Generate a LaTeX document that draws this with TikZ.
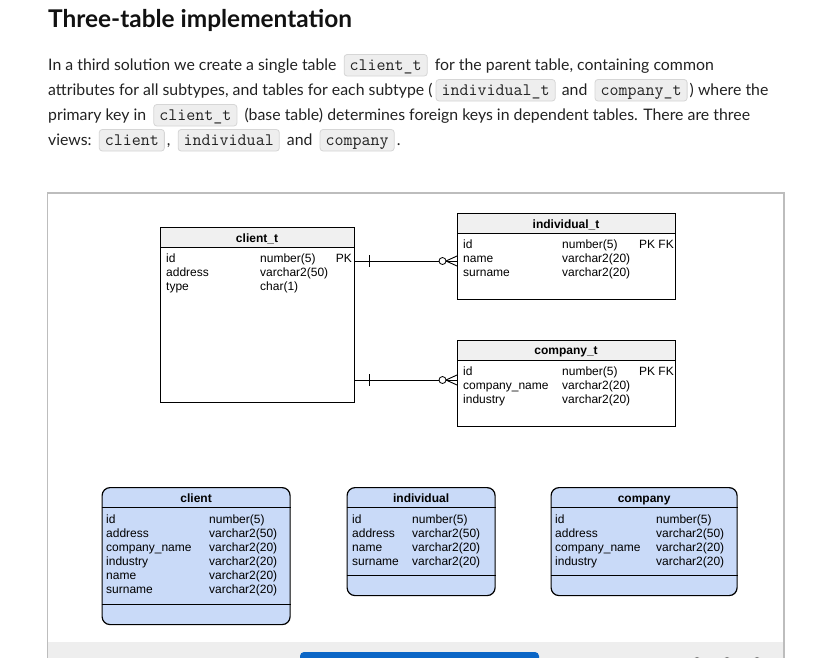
\documentclass[tikz,border=0pt]{standalone}
\usepackage{fontspec}
\setmainfont{Lato}
\newfontfamily\tabfont{Liberation Sans}
\definecolor{textc}{HTML}{222222}
\definecolor{titlec}{HTML}{111111}
\definecolor{codebg}{HTML}{EEEEEE}
\definecolor{codeborder}{HTML}{D6D6D6}
\definecolor{codetext}{HTML}{222222}
\definecolor{viewblue}{HTML}{C9DAF8}
\definecolor{hdrgray}{HTML}{F0F0F0}
\definecolor{framegray}{HTML}{BDBDBD}
\definecolor{bandgray}{HTML}{EEEEEE}
\definecolor{btnblue}{HTML}{0B66C6}
\definecolor{dotgray}{HTML}{777777}
\begin{document}
\begin{tikzpicture}[x=1pt,y=-1pt,
  titlestyle/.style={inner sep=0pt, anchor=base west, text=titlec, font=\bfseries\fontsize{24.4}{28}\selectfont},
  txt/.style={inner sep=0pt, anchor=base west, text=textc, font=\fontsize{15.85}{18}\selectfont},
  code/.style={anchor=base west, fill=codebg, draw=codeborder, line width=0.8pt, rounded corners=3pt,
     inner xsep=5.5pt, inner ysep=3.5pt, text height=12pt, text depth=2.5pt, text=codetext,
     font=\ttfamily\fontsize{17.5}{18}\selectfont},
  row/.style={inner sep=0pt, anchor=base west, font=\tabfont\fontsize{12}{14}\selectfont},
  rowr/.style={inner sep=0pt, anchor=base east, font=\tabfont\fontsize{12}{14}\selectfont},
  hdrtext/.style={inner sep=0pt, anchor=base, font=\tabfont\bfseries\fontsize{12}{14}\selectfont},
  ertab/.style={draw=black, line width=0.9pt, anchor=north west, inner sep=0pt},
  erhdr/.style={fill=hdrgray, draw=black, line width=0.9pt, anchor=north west, inner sep=0pt},
  viewbox/.style={draw=black, fill=viewblue, line width=1.2pt, rounded corners=8pt, anchor=north west, inner sep=0pt},
  conn/.style={draw=black, line width=0.9pt},
  crowcirc/.style={circle, draw=black, fill=white, line width=0.8pt, inner sep=0pt, minimum size=7pt}
]
\useasboundingbox (0,0) rectangle (825,657);
\clip (0,0) rectangle (825,657);
\fill[white] (0,0) rectangle (825,657);

% ---------- title and paragraph ----------
\node[titlestyle] (title) at (48,27) {Three-table implementation};

\node[txt] (p1a) at (48,70) {In a third solution we create a single table};
\node[code] (p1b) at ([xshift=7pt]p1a.base east) {client\_t};
\node[txt] (p1c) at ([xshift=7pt]p1b.base east) {for the parent table, containing common};

\node[txt] (p2a) at (48,95) {attributes for all subtypes, and tables for each subtype (};
\node[code] (p2b) at ([xshift=3pt]p2a.base east) {individual\_t};
\node[txt] (p2c) at ([xshift=6pt]p2b.base east) {and};
\node[code] (p2d) at ([xshift=7pt]p2c.base east) {company\_t};
\node[txt] (p2e) at ([xshift=2pt]p2d.base east) {) where the};

\node[txt] (p3a) at (48,120) {primary key in};
\node[code] (p3b) at ([xshift=7pt]p3a.base east) {client\_t};
\node[txt] (p3c) at ([xshift=7pt]p3b.base east) {(base table) determines foreign keys in dependent tables. There are three};

\node[txt] (p4a) at (48,145) {views:};
\node[code] (p4b) at ([xshift=7pt]p4a.base east) {client};
\node[txt] (p4c) at ([xshift=2pt]p4b.base east) {,};
\node[code] (p4d) at ([xshift=7pt]p4c.base east) {individual};
\node[txt] (p4e) at ([xshift=7pt]p4d.base east) {and};
\node[code] (p4f) at ([xshift=7pt]p4e.base east) {company};
\node[txt] (p4g) at ([xshift=2pt]p4f.base east) {.};

% ---------- frame ----------
\fill[bandgray] (48,642) rectangle (784,670);
\fill[btnblue, rounded corners=4pt] (300,652) rectangle (539,690);
\foreach \dx [count=\k] in {697,727,757} {
  \node[circle, fill=dotgray, inner sep=0pt, minimum size=10pt] (dot\k) at (\dx,662) {};
}
\draw[framegray, line width=1.6pt] (47.5,193) rectangle (784,700);

% ---------- client_t ----------
\node[erhdr, minimum width=194pt, minimum height=20pt] (cth) at (160,227) {};
\node[ertab, minimum width=194pt, minimum height=175pt] (ct) at (160,227) {};
\node[hdrtext] (ctt) at (257,242) {client\_t};
\foreach \t [count=\i] in {id,address,type} {\node[row] (cta\i) at (166,248+14*\i) {\t};}
\foreach \t [count=\i] in {number(5),varchar2(50),char(1)} {\node[row] (ctb\i) at (260,248+14*\i) {\t};}
\node[rowr] (ctk) at (352,262) {PK};

% ---------- individual_t ----------
\node[erhdr, minimum width=218pt, minimum height=20pt] (ith) at (457,213) {};
\node[ertab, minimum width=218pt, minimum height=86pt] (it) at (457,213) {};
\node[hdrtext] (itt) at (566,228) {individual\_t};
\foreach \t [count=\i] in {id,name,surname} {\node[row] (ita\i) at (463,234+14*\i) {\t};}
\foreach \t [count=\i] in {number(5),varchar2(20),varchar2(20)} {\node[row] (itb\i) at (562,234+14*\i) {\t};}
\node[rowr] (itk) at (674,248) {PK FK};

% ---------- company_t ----------
\node[erhdr, minimum width=218pt, minimum height=20pt] (cph) at (457,340) {};
\node[ertab, minimum width=218pt, minimum height=86pt] (cp) at (457,340) {};
\node[hdrtext] (cpt) at (566,354) {company\_t};
\foreach \t [count=\i] in {id,company\_name,industry} {\node[row] (cpa\i) at (463,361+14*\i) {\t};}
\foreach \t [count=\i] in {number(5),varchar2(20),varchar2(20)} {\node[row] (cpb\i) at (562,361+14*\i) {\t};}
\node[rowr] (cpk) at (674,375) {PK FK};

% ---------- connectors ----------
\coordinate (c1s) at (ct.east |- 0,261);
\coordinate (c1e) at (it.west |- 0,261);
\coordinate (c2s) at (ct.east |- 0,380);
\coordinate (c2e) at (cp.west |- 0,380);
\draw[conn] (c1s) -- (c1e);
\draw[conn] (c2s) -- (c2e);
\foreach \c/\e in {c1s/c1e, c2s/c2e} {
  \draw[conn] ([xshift=15pt]\c) ++(0,-6) -- ++(0,12);
  \draw[conn] ([xshift=-11pt]\e) -- ([yshift=5pt]\e);
  \draw[conn] ([xshift=-11pt]\e) -- ([yshift=-5pt]\e);
}
\node[crowcirc] (o1) at ([xshift=-14.5pt]c1e) {};
\node[crowcirc] (o2) at ([xshift=-14.5pt]c2e) {};

% ---------- views ----------
\node[viewbox, minimum width=188pt, minimum height=137pt] (cv) at (101.5,487) {};
\draw[line width=1pt] (cv.west |- 0,507) -- (cv.east |- 0,507);
\draw[line width=1pt] (cv.west |- 0,604) -- (cv.east |- 0,604);
\node[hdrtext] (cvt) at (cv.north |- 0,502) {client};
\foreach \t [count=\i] in {id,address,company\_name,industry,name,surname} {\node[row] (cva\i) at (106,509+14*\i) {\t};}
\foreach \t [count=\i] in {number(5),varchar2(50),varchar2(20),varchar2(20),varchar2(20),varchar2(20)} {\node[row] (cvb\i) at (209,509+14*\i) {\t};}

\node[viewbox, minimum width=148pt, minimum height=108pt] (iv) at (346.5,487) {};
\draw[line width=1pt] (iv.west |- 0,507) -- (iv.east |- 0,507);
\draw[line width=1pt] (iv.west |- 0,575) -- (iv.east |- 0,575);
\node[hdrtext] (ivt) at (iv.north |- 0,502) {individual};
\foreach \t [count=\i] in {id,address,name,surname} {\node[row] (iva\i) at (352,509+14*\i) {\t};}
\foreach \t [count=\i] in {number(5),varchar2(50),varchar2(20),varchar2(20)} {\node[row] (ivb\i) at (412,509+14*\i) {\t};}

\node[viewbox, minimum width=186pt, minimum height=108pt] (mv) at (550.5,487) {};
\draw[line width=1pt] (mv.west |- 0,507) -- (mv.east |- 0,507);
\draw[line width=1pt] (mv.west |- 0,575) -- (mv.east |- 0,575);
\node[hdrtext] (mvt) at (mv.north |- 0,502) {company};
\foreach \t [count=\i] in {id,address,company\_name,industry} {\node[row] (mva\i) at (555,509+14*\i) {\t};}
\foreach \t [count=\i] in {number(5),varchar2(50),varchar2(20),varchar2(20)} {\node[row] (mvb\i) at (656,509+14*\i) {\t};}
\end{tikzpicture}
\end{document}
